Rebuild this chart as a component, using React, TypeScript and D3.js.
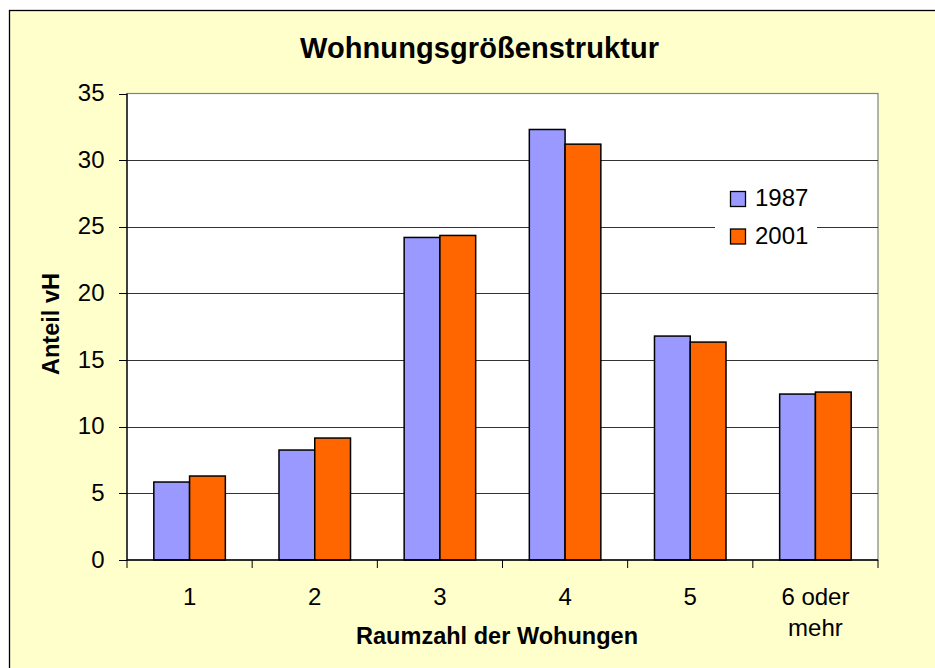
import React from "react";
import * as d3 from "d3";

const categories = ["1", "2", "3", "4", "5", "6 oder\nmehr"];
const seriesNames = ["1987", "2001"];
const values1987 = [5.85, 8.25, 24.2, 32.3, 16.8, 12.45];
const values2001 = [6.3, 9.15, 24.35, 31.2, 16.35, 12.6];
const yTicks = [0, 5, 10, 15, 20, 25, 30, 35];
const colors = ["#9999FF", "#FF6600"];
const title = "Wohnungsgrößenstruktur";
const xTitle = "Raumzahl der Wohungen";
const yTitle = "Anteil vH";

const W = 935;
const H = 668;
const FONT = "'Liberation Sans', Arial, sans-serif";

export default function App() {
  const plot = { left: 127, right: 878, top: 93.5, bottom: 560 };
  const y = d3.scaleLinear().domain([0, 35]).range([plot.bottom, plot.top]);
  const x0 = d3.scaleBand<string>().domain(categories).range([plot.left, plot.right]).padding(0);
  const x1 = d3
    .scaleBand<string>()
    .domain(seriesNames)
    .range([0, x0.bandwidth()])
    .paddingInner(0)
    .paddingOuter(0.75);
  const seriesValues = [values1987, values2001];
  const boundaries = categories.map((c) => x0(c)!).concat([plot.right]);

  return (
    <div style={{ position: "fixed", left: 0, top: 0, width: W, height: H, background: "#fff" }}>
      <svg width={W} height={H} style={{ display: "block" }}>
        <rect x={9.5} y={10.5} width={W + 10} height={H + 10} fill="#FFFFCC" stroke="#000" strokeWidth={1.3} />
        <text
          x={479.5}
          y={58}
          textAnchor="middle"
          fontFamily={FONT}
          fontWeight="bold"
          fontSize={29}
          textLength={359}
          lengthAdjust="spacing"
        >
          {title}
        </text>
        {/* plot area */}
        <rect
          x={plot.left}
          y={plot.top}
          width={plot.right - plot.left}
          height={plot.bottom - plot.top}
          fill="#FFFFFF"
          stroke="#808080"
          strokeWidth={1.2}
        />
        {yTicks
          .filter((t) => t > 0 && t < 35)
          .map((t) => (
            <line key={t} x1={plot.left} x2={plot.right} y1={Math.round(y(t)) + 0.5} y2={Math.round(y(t)) + 0.5} stroke="#333" strokeWidth={1} />
          ))}
        {/* legend */}
        <rect x={715} y={176} width={102} height={82} fill="#FFFFFF" />
        {seriesNames.map((s, i) => (
          <g key={s}>
            <rect x={730.5} y={191.5 + i * 37.5} width={15} height={15} fill={colors[i]} stroke="#000" strokeWidth={1.3} />
            <text x={755} y={206 + i * 37.5} fontFamily={FONT} fontSize={24} fill="#000">
              {s}
            </text>
          </g>
        ))}
        {/* bars */}
        {categories.map((c, ci) =>
          seriesNames.map((s, si) => {
            const v = seriesValues[si][ci];
            const bx = x0(c)! + x1(s)!;
            return (
              <rect
                key={c + s}
                x={bx}
                y={y(v)}
                width={x1.bandwidth()}
                height={y(0) - y(v)}
                fill={colors[si]}
                stroke="#000"
                strokeWidth={1.5}
              />
            );
          })
        )}
        {/* axes */}
        <line x1={plot.left} x2={plot.left} y1={plot.top} y2={plot.bottom} stroke="#000" strokeWidth={1.3} />
        <line x1={plot.left} x2={plot.right} y1={plot.bottom} y2={plot.bottom} stroke="#000" strokeWidth={1.3} />
        {yTicks.map((t) => (
          <g key={t}>
            <line x1={plot.left - 8} x2={plot.left} y1={Math.round(y(t)) + 0.5} y2={Math.round(y(t)) + 0.5} stroke="#000" strokeWidth={1} />
            <text x={104.5} y={y(t) + 7.5} textAnchor="end" fontFamily={FONT} fontSize={24} fill="#000">
              {t}
            </text>
          </g>
        ))}
        {boundaries.map((b, i) => (
          <line key={i} x1={b} x2={b} y1={plot.bottom} y2={plot.bottom + 8} stroke="#000" strokeWidth={1} />
        ))}
        {categories.map((c) => {
          const lines = c.split("\n");
          const cx = x0(c)! + x0.bandwidth() / 2;
          return (
            <text key={c} x={cx} y={604.5} textAnchor="middle" fontFamily={FONT} fontSize={24} fill="#000">
              {lines.map((l, i) => (
                <tspan key={i} x={cx} dy={i === 0 ? 0 : 31.5}>
                  {l}
                </tspan>
              ))}
            </text>
          );
        })}
        <text
          x={497}
          y={644}
          textAnchor="middle"
          fontFamily={FONT}
          fontWeight="bold"
          fontSize={23.5}
          textLength={282}
          lengthAdjust="spacing"
        >
          {xTitle}
        </text>
        <text
          transform="translate(59,324) rotate(-90)"
          textAnchor="middle"
          fontFamily={FONT}
          fontWeight="bold"
          fontSize={23.5}
          textLength={102}
          lengthAdjust="spacing"
        >
          {yTitle}
        </text>
      </svg>
    </div>
  );
}
